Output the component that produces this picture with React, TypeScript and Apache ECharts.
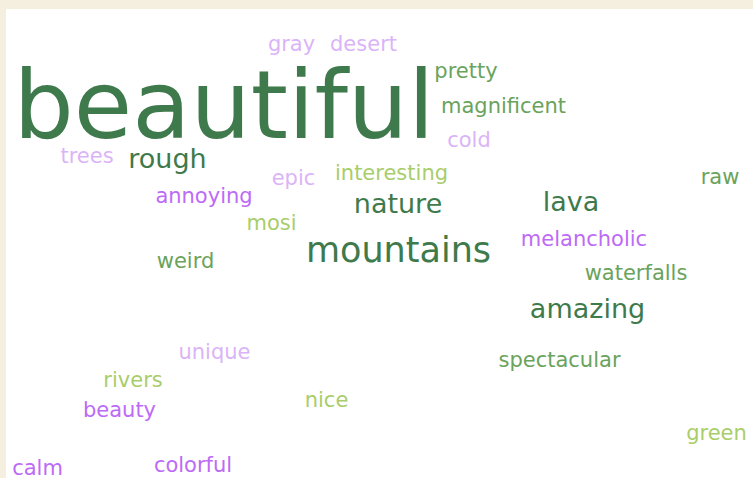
import React, { useEffect, useRef } from "react";
import * as echarts from "echarts";

// Word cloud data
const words = [
  "beautiful", "gray", "desert", "pretty", "magnificent", "cold", "trees", "rough",
  "epic", "interesting", "raw", "annoying", "nature", "lava", "mosi", "mountains",
  "melancholic", "weird", "waterfalls", "amazing", "unique", "spectacular", "rivers",
  "beauty", "nice", "green", "calm", "colorful",
];
const counts = [
  10, 1, 1, 1, 1, 1, 1, 3,
  1, 1, 1, 1, 3, 3, 1, 4,
  1, 1, 1, 3, 1, 1, 1,
  1, 1, 1, 1, 1,
];
// colour group of each word (index into palette)
const colorGroups = [
  0, 3, 3, 1, 1, 3, 3, 0,
  3, 2, 1, 4, 0, 0, 2, 0,
  4, 1, 1, 0, 3, 1, 2,
  4, 2, 2, 4, 4,
];

// layout: word centre positions in the cloud (pixels)
const layoutX = [
  224, 291.5, 363.5, 466, 503.5, 469, 87, 167.5,
  293.5, 391.5, 720, 204, 398, 571, 271.5, 398.5,
  584, 185.5, 636, 587.5, 214.5, 559.5, 133,
  119.5, 326.5, 716.5, 37.5, 193,
];
const layoutY = [
  105, 44, 44, 71, 106, 140, 156, 158.5,
  178, 173, 177, 196, 203.5, 201.5, 223, 249.5,
  239, 261, 273, 308.5, 352, 360, 380,
  410, 400, 433, 468, 465,
];

const palette = ["#3e7a4b", "#6aa35b", "#a9cd6b", "#dbb4f7", "#bd6bf6"];
const sizeByCount: Record<number, number> = { 1: 21, 3: 27, 4: 35, 10: 95 };

export default function App() {
  const ref = useRef<HTMLDivElement>(null);
  useEffect(() => {
    document.body.style.margin = "0";
    const chart = echarts.init(ref.current!, undefined, { renderer: "svg" });
    const data = words.map((w, i) => ({
      name: w,
      value: [layoutX[i], layoutY[i], counts[i]],
      label: {
        color: palette[colorGroups[i]],
        fontSize: sizeByCount[counts[i]],
      },
    }));
    chart.setOption({
      animation: false,
      backgroundColor: "#f5efdf",
      grid: {
        left: 6,
        top: 9,
        right: 0,
        bottom: 0,
        show: true,
        backgroundColor: "#ffffff",
        borderWidth: 0,
      },
      xAxis: { type: "value", min: 6, max: 753, show: false },
      yAxis: { type: "value", min: 9, max: 478, inverse: true, show: false },
      series: [
        {
          type: "scatter",
          symbolSize: 1,
          itemStyle: { color: "rgba(0,0,0,0)", opacity: 1 },
          data,
          label: {
            show: true,
            position: "inside",
            formatter: (p: any) => p.name,
            fontFamily: "DejaVu Sans",
            fontWeight: "normal",
            align: "center",
            verticalAlign: "middle",
          },
          emphasis: { disabled: true },
        },
      ],
    });
    return () => chart.dispose();
  }, []);
  return <div ref={ref} style={{ width: 753, height: 478 }} />;
}
